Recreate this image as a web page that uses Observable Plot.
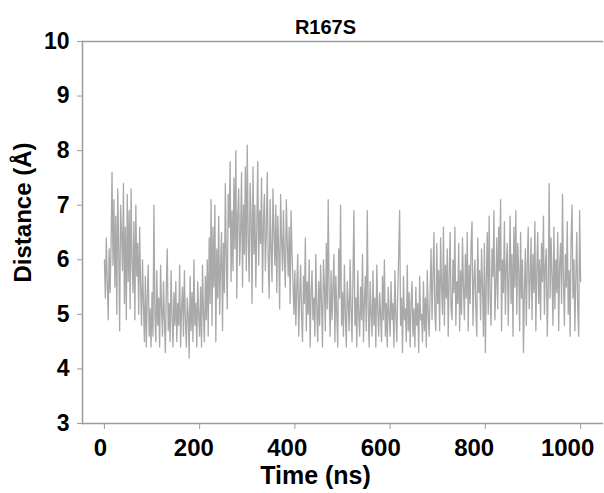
<!DOCTYPE html>
<html><head><meta charset="utf-8">
<script src="https://cdn.jsdelivr.net/npm/d3@7"></script>
<script src="https://cdn.jsdelivr.net/npm/@observablehq/plot@0.6"></script>
<style>
html,body{margin:0;padding:0;background:#fff;}
</style></head><body><div id="chart"></div>
<script>
const title = "R167S";
const xLabel = "Time (ns)";
const yLabel = "Distance (Å)";
const xTicks = [0, 200, 400, 600, 800, 1000];
const yTicks = [3, 4, 5, 6, 7, 8, 9, 10];
const timeStart = 0;
const timeStep = 2;
const distance = [
  6.0,5.3,6.4,5.6,4.9, 6.2,5.4,6.3,7.6,5.9, 7.1,5.5,6.8,5.0,7.3, 6.2,4.7,7.0,6.5,5.8, 7.4,5.2,6.6,4.9,7.2,
  5.6,6.9,5.1,7.3,6.0, 5.4,6.7,4.9,7.0,5.7, 6.3,5.0,6.6,5.5,4.8, 6.0,5.2,4.5,5.7,4.4, 5.3,5.9,4.6,5.1,4.4,
  5.4,4.6,7.0,5.0,4.5, 5.8,4.8,5.3,4.4,5.9, 5.1,4.6,5.6,4.9,4.3, 5.5,6.2,4.7,5.2,4.5, 5.8,5.0,4.4,5.4,4.8,
  5.6,4.5,5.2,4.8,5.9, 4.4,5.1,5.5,4.6,5.8, 4.9,4.4,5.3,5.0,4.2, 5.7,4.7,5.4,4.5,6.0, 4.8,5.2,4.4,5.6,5.0,
  4.6,5.5,4.4,5.9,5.0, 4.5,5.7,4.9,6.0,4.6, 6.4,5.2,7.1,4.8,6.6, 5.5,7.0,4.5,6.2,5.3, 6.8,5.0,5.9,6.5,4.7,
  6.3,5.4,7.4,6.0,5.1, 7.2,6.6,7.8,5.6,6.9, 5.8,7.5,6.2,8.0,5.3, 6.8,7.3,5.9,6.5,7.6, 5.5,7.0,6.1,7.7,5.8,
  8.1,6.4,5.6,7.4,6.8, 5.2,7.7,6.1,7.0,5.5, 6.6,7.8,5.9,6.9,6.3, 7.5,5.4,6.7,7.2,5.8, 6.5,7.6,6.0,5.3,7.1,
  6.2,5.6,7.3,6.5,5.9, 7.0,5.4,6.8,6.2,5.1, 7.2,6.4,5.8,6.9,6.0, 5.5,7.1,6.3,5.7,6.6, 5.2,6.9,6.1,5.6,5.0,
  5.8,4.8,5.5,6.1,4.6, 5.3,5.9,5.0,4.5,5.7, 5.2,6.4,4.7,5.6,5.0, 6.0,4.4,5.4,5.8,4.9, 5.3,4.6,6.1,5.1,4.5,
  5.6,4.8,5.9,5.2,4.4, 6.0,5.5,4.7,6.3,5.1, 7.1,5.3,4.6,5.8,4.9, 5.5,6.1,4.5,5.7,5.0, 4.4,6.2,5.3,7.0,4.8,
  5.4,4.6,5.9,5.0,4.4, 5.6,5.2,4.7,6.0,5.1, 4.5,5.7,6.9,4.8,5.3, 4.4,5.8,5.0,4.6,5.5, 4.9,6.1,4.5,5.2,5.7,
  4.7,6.9,5.1,4.4,5.6, 5.0,4.6,5.8,4.8,5.3, 4.4,5.9,5.1,4.6,5.4, 5.0,4.5,5.7,4.9,6.0, 4.6,5.2,4.4,5.5,5.0,
  4.6,5.6,4.9,5.2,4.4, 5.8,5.0,4.5,5.4,6.1, 6.9,4.8,5.3,4.3,5.7, 4.9,5.1,4.5,5.9,4.7, 5.4,4.4,5.2,5.6,4.6,
  5.1,4.4,5.5,4.8,5.2, 4.3,5.7,4.9,5.0,4.5, 5.6,4.7,5.3,4.4,5.8, 5.0,4.6,5.4,6.2,4.9, 5.7,6.5,5.0,4.7,6.3,
  5.2,5.8,4.7,6.4,5.5, 5.0,6.6,4.8,5.9,5.3, 6.2,4.6,5.7,6.5,5.1, 4.9,6.0,5.4,6.6,4.8, 5.6,5.2,6.3,4.7,5.8,
  5.0,6.4,5.5,4.9,6.1, 5.3,6.5,4.7,5.9,5.2, 6.3,6.7,4.8,5.6,6.0, 5.1,4.6,6.4,5.4,5.8, 4.9,6.2,5.5,4.6,6.3,
  4.3,5.6,6.5,5.0,6.8, 5.3,4.8,6.2,5.7,6.9, 4.9,5.5,6.4,5.1,6.6, 5.8,7.1,4.7,6.0,5.4, 6.7,5.0,5.9,6.3,4.8,
  5.7,6.8,5.2,6.1,4.6, 6.6,5.5,6.9,5.0,6.3, 5.8,4.7,6.5,5.3,6.0, 4.3,5.4,6.2,4.8,5.9, 6.6,5.1,5.6,6.4,4.9,
  6.1,5.4,6.7,4.7,5.8, 6.5,5.2,6.0,4.9,6.3, 5.6,6.8,5.0,5.9,6.2, 4.6,5.5,7.4,5.3,6.4, 5.7,4.8,6.6,5.1,6.0,
  5.4,6.5,4.7,5.9,6.3, 5.2,7.2,5.6,4.8,6.1, 5.5,6.7,5.0,5.8,4.6, 6.4,7.0,5.3,6.0,4.7, 5.7,6.5,5.1,4.6,6.9,
  5.6
];
const data = distance.map((d, i) => ({time: timeStart + i * timeStep, distance: d}));

const axisColor = "#9c9c9c";
const font = "'Liberation Sans', Arial, sans-serif";
// tick labels in the reference sit slightly left of their ticks, more so to the right
const xTickLabelMarks = xTicks.map(t => Plot.text([t], {
  x: d => d, frameAnchor: "bottom", dy: 25, dx: -4 - 0.009 * t,
  text: d => String(d), fontSize: 24, fontWeight: "bold", fill: "#000", lineAnchor: "middle"
}));

const chart = Plot.plot({
  width: 604,
  height: 493,
  marginLeft: 82,
  marginRight: 2,
  marginTop: 41,
  marginBottom: 70,
  style: {fontFamily: font, fontWeight: "bold", fontSize: "23px", color: "#000", background: "#fff", overflow: "visible"},
  x: {domain: [-46, 1046]},
  y: {domain: [3, 10]},
  marks: [
    Plot.line(data, {x: "time", y: "distance", stroke: "#a9a9a9", strokeWidth: 1.3}),
    Plot.frame({anchor: "top", stroke: axisColor, strokeWidth: 1.5}),
    Plot.frame({anchor: "bottom", stroke: axisColor, strokeWidth: 1.5}),
    Plot.frame({anchor: "left", stroke: axisColor, strokeWidth: 1.5}),
    Plot.axisX({ticks: xTicks, tickSize: 6, text: null, label: null, stroke: axisColor}),
    ...xTickLabelMarks,
    Plot.axisY({ticks: yTicks, tickFormat: "d", tickSize: 5, tickPadding: 8, label: null, stroke: axisColor, fill: "#000", fontSize: 23, fontWeight: "bold"}),
    Plot.text([title], {text: d => d, frameAnchor: "top", textAnchor: "middle", dx: -17, dy: -14, fontSize: 20, fontWeight: "bold", fill: "#000", lineAnchor: "middle"}),
    Plot.text([xLabel], {text: d => d, frameAnchor: "bottom", textAnchor: "middle", dx: -27, dy: 52, fontSize: 25, fontWeight: "bold", fill: "#000", lineAnchor: "middle"}),
    Plot.text([yLabel], {text: d => d, frameAnchor: "left", textAnchor: "middle", rotate: -90, dx: -59, dy: -20, fontSize: 24, fontWeight: "bold", fill: "#000", lineAnchor: "middle"})
  ]
});
document.getElementById("chart").appendChild(chart);
</script>
</body></html>
